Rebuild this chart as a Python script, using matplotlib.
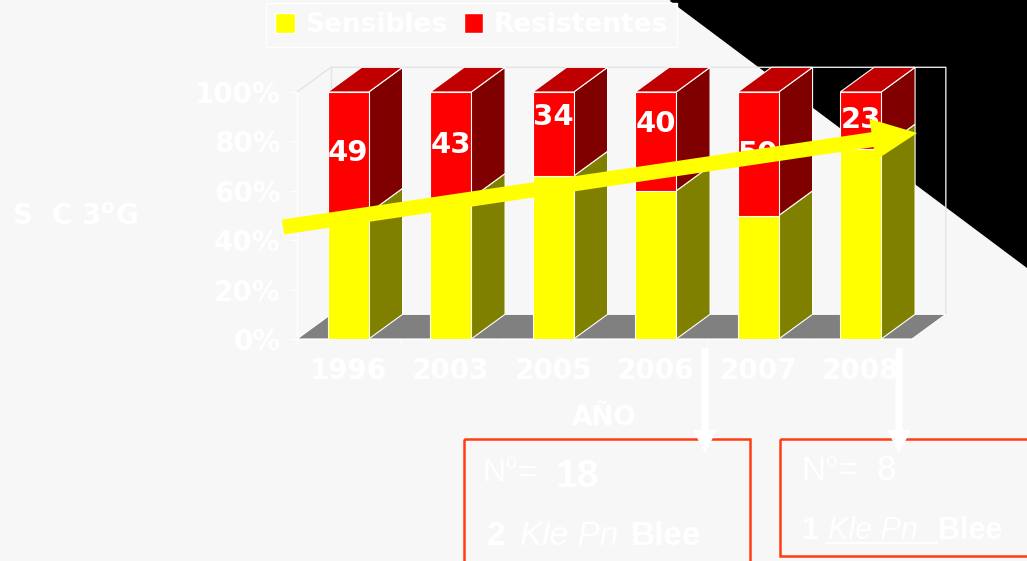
import numpy as np
import matplotlib.pyplot as plt
from matplotlib.patches import Polygon, Rectangle, FancyArrow, Patch

# datos
years = ['1996', '2003', '2005', '2006', '2007', '2008']
sensibles = [51, 57, 66, 60, 50, 77]
resistentes = [49, 43, 34, 40, 50, 23]
label_pos = [75.5, 78.5, 90, 87, 75, 88.5]   # altura de las etiquetas (%)
y_ticks = [0, 20, 40, 60, 80, 100]

W, H = 1027, 561
BG = '#f7f7f7'
YEL, OLIVE = '#ffff00', '#808000'
RED, DRED, TRED = '#ff0000', '#800000', '#c00000'
BOXC = '#ff3c14'

fig = plt.figure(figsize=(W / 100, H / 100), dpi=100)
fig.patch.set_facecolor(BG)

# fondo: triangulo negro
bg = fig.add_axes([0, 0, 1, 1], zorder=0)
bg.set_xlim(0, W)
bg.set_ylim(H, 0)
bg.axis('off')
bg.add_patch(Polygon([(670, 0), (W, 0), (W, 267)], closed=True, color='black'))

# grafico 3D
ax = fig.add_axes([297 / W, 1 - 339 / H, 615 / W, 247 / H], zorder=1)
ax.set_xlim(-0.5, 5.5)
ax.set_ylim(0, 100)
ax.patch.set_alpha(0)

dx, dy = 0.33, 10.0
bw = 0.4
n = len(years)

# suelo y paredes
ax.fill([-0.5, n - 0.5, n - 0.5 + dx, -0.5 + dx], [0, 0, dy, dy],
        color='#808080', ec='white', lw=0.8, clip_on=False, zorder=1)
wall = '#e4e4e4'
ax.plot([-0.5, -0.5 + dx, n - 0.5 + dx, n - 0.5 + dx],
        [100, 100 + dy, 100 + dy, dy], color=wall, lw=1, clip_on=False, zorder=0.5)
ax.plot([-0.5 + dx, -0.5 + dx], [dy, 100 + dy], color=wall, lw=1, clip_on=False, zorder=0.5)


def box3d(x, y0, y1, front, side, top=None):
    x0, x1 = x - bw / 2, x + bw / 2
    ax.fill([x1, x1 + dx, x1 + dx, x1], [y0, y0 + dy, y1 + dy, y1],
            color=side, ec='white', lw=0.8, clip_on=False, zorder=2)
    ax.fill([x0, x1, x1, x0], [y0, y0, y1, y1],
            color=front, ec='white', lw=0.8, clip_on=False, zorder=3)
    if top:
        ax.fill([x0, x1, x1 + dx, x0 + dx], [y1, y1, y1 + dy, y1 + dy],
                color=top, ec='white', lw=0.8, clip_on=False, zorder=2)


for i in range(n):
    s = sensibles[i]
    box3d(i, 0, s, YEL, OLIVE)
    box3d(i, s, s + resistentes[i], RED, DRED, TRED)
    ax.text(i, label_pos[i], str(resistentes[i]), ha='center', va='center',
            color='white', fontsize=21, fontweight='bold', zorder=4)

ax.set_yticks(y_ticks, [f'{v}%' for v in y_ticks])
ax.set_xticks(range(n), years)
ax.set_xticks(np.arange(-0.5, n, 1), minor=True)
ax.tick_params(axis='y', colors='white', length=5, pad=7, labelsize=20)
ax.tick_params(axis='x', which='major', length=0, pad=13, labelsize=20, labelcolor='white')
ax.tick_params(axis='x', which='minor', length=5, color='white')
for lab in ax.get_xticklabels() + ax.get_yticklabels():
    lab.set_fontweight('bold')
for side in ['top', 'right']:
    ax.spines[side].set_visible(False)
ax.spines['left'].set_color('white')
ax.spines['bottom'].set_color('white')

handles = [Patch(facecolor=YEL, edgecolor='white'), Patch(facecolor=RED, edgecolor='white')]
ax.legend(handles, ['Sensibles', 'Resistentes'], ncol=2, loc='upper left',
          bbox_to_anchor=(266 / W, 1 - 3 / H), bbox_transform=fig.transFigure,
          prop={'weight': 'bold', 'size': 19}, labelcolor='white', frameon=True,
          facecolor=BG, edgecolor='white', framealpha=1, fancybox=False,
          handlelength=0.75, handleheight=0.75, handletextpad=0.4,
          columnspacing=0.6, borderpad=0.35, borderaxespad=0)

# capa superior: flechas, cajas, textos
top = fig.add_axes([0, 0, 1, 1], zorder=2)
top.set_xlim(0, W)
top.set_ylim(H, 0)
top.axis('off')

top.text(12, 217, r'S  C 3$^{\mathbf{o}}$G', color='white', fontsize=20,
         fontweight='bold', va='center')
top.text(604, 418, 'AÑO', color='white', fontsize=19, fontweight='bold', ha='center', va='center')

top.add_patch(FancyArrow(283, 227, 634, -94, width=15, head_width=42, head_length=45,
                         length_includes_head=True, color=YEL, lw=0))

top.add_patch(Rectangle((464, 439), 286, 140, fill=False, ec=BOXC, lw=1.8))
top.add_patch(Rectangle((780, 439), 262, 117, fill=False, ec=BOXC, lw=1.8))

for xa in [705, 899]:
    top.add_patch(FancyArrow(xa, 348, 0, 105, width=7, head_width=24, head_length=23,
                             length_includes_head=True, color='white', lw=0))

sans = 'Liberation Sans'


def numero(x, y, size):
    # "Nº=" con la o volada
    top.text(x, y, 'N', color='white', fontsize=size, family=sans, va='baseline')
    top.text(x + size * 1.0, y - size * 0.55, 'o', color='white', fontsize=size * 0.62,
             family=sans, va='baseline')
    top.text(x + size * 1.55, y, '=', color='white', fontsize=size, family=sans, va='baseline')


numero(482, 481, 23)
top.text(555, 487, '18', color='white', fontsize=28, family=sans, fontweight='bold', va='baseline')
top.text(487, 545, '2', color='white', fontsize=24, family=sans, fontweight='bold', va='baseline')
top.text(520, 545, 'Kle Pn', color='white', fontsize=24, family=sans, style='italic', va='baseline')
top.text(631, 545, 'Blee', color='white', fontsize=24, family=sans, fontweight='bold', va='baseline')

numero(801, 480, 24)
top.text(877, 480, '8', color='white', fontsize=25, family=sans, va='baseline')
top.text(801, 539, '1', color='white', fontsize=22, family=sans, fontweight='bold', va='baseline')
top.text(828, 539, 'Kle Pn', color='white', fontsize=22, family=sans, style='italic', va='baseline')
top.plot([826, 937], [543, 543], color='white', lw=1.5)
top.text(938, 539, 'Blee', color='white', fontsize=22, family=sans, fontweight='bold', va='baseline')

fig.savefig('out.png', dpi=100, facecolor=BG)
